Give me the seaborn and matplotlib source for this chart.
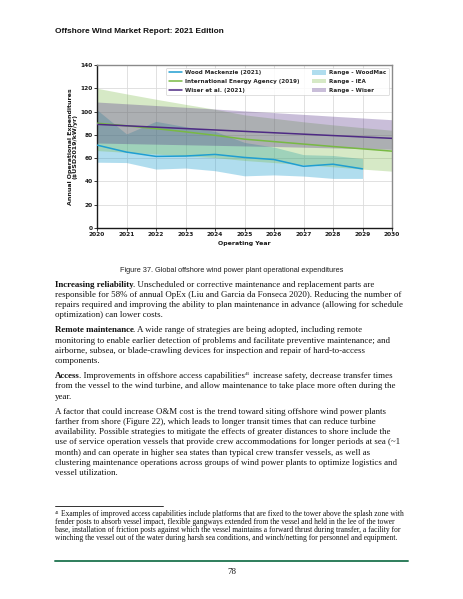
import matplotlib
matplotlib.use("Agg")
import matplotlib.pyplot as plt
import seaborn as sns
import pandas as pd
from matplotlib.lines import Line2D
from matplotlib.patches import Patch

# ---------------- data ----------------
years_wm = [2020, 2021, 2022, 2023, 2024, 2025, 2026, 2027, 2028, 2029]
wm_mid = [71.2, 65.2, 61.5, 61.8, 63.2, 60.6, 58.8, 53.0, 54.8, 50.8]
wm_low = [56.5, 56.2, 50.6, 51.5, 49.2, 44.8, 45.6, 44.6, 42.6, 42.6]
wm_high = [101.5, 80.8, 91.6, 87.0, 83.0, 73.5, 69.5, 63.0, 62.3, 59.6]

years = [2020, 2021, 2022, 2023, 2024, 2025, 2026, 2027, 2028, 2029, 2030]
iea_mid = [90.0, 87.8, 85.3, 82.6, 79.6, 76.3, 74.2, 72.1, 70.0, 68.0, 66.0]
iea_low = [66.5, 65.0, 63.5, 62.0, 60.5, 58.0, 56.2, 54.4, 52.6, 50.6, 48.8]
iea_high = [120.0, 115.2, 110.6, 106.2, 102.0, 97.2, 94.2, 91.2, 88.6, 86.2, 84.0]
wiser_mid = [89.0, 87.8, 86.6, 85.4, 84.2, 83.0, 81.8, 80.6, 79.4, 78.2, 77.0]
wiser_low = [73.0, 72.5, 72.0, 71.5, 71.0, 70.5, 70.0, 69.4, 68.8, 68.2, 67.6]
wiser_high = [108.2, 106.7, 105.2, 103.7, 102.2, 100.6, 99.1, 97.6, 96.0, 94.5, 93.0]

series_labels = ["Wood Mackenzie (2021)", "International Energy Agency (2019)", "Wiser et al. (2021)"]
range_labels = ["Range - WoodMac", "Range - IEA", "Range - Wiser"]
x_ticks = [2020, 2021, 2022, 2023, 2024, 2025, 2026, 2027, 2028, 2029, 2030]
y_ticks = [0, 20, 40, 60, 80, 100, 120, 140]

header = "Offshore Wind Market Report: 2021 Edition"
caption = "Figure 37. Global offshore wind power plant operational expenditures"

paragraphs = [
    [[("Increasing reliability", "b"), (". Unscheduled or corrective maintenance and replacement parts are", "r")],
     [("responsible for 58% of annual OpEx (Liu and Garcia da Fonseca 2020). Reducing the number of", "r")],
     [("repairs required and improving the ability to plan maintenance in advance (allowing for schedule", "r")],
     [("optimization) can lower costs.", "r")]],
    [[("Remote maintenance", "b"), (". A wide range of strategies are being adopted, including remote", "r")],
     [("monitoring to enable earlier detection of problems and facilitate preventive maintenance; and", "r")],
     [("airborne, subsea, or blade-crawling devices for inspection and repair of hard-to-access", "r")],
     [("components.", "r")]],
    [[("Access", "b"), (". Improvements in offshore access capabilities", "r"), ("41", "sup"),
      ("increase safety, decrease transfer times", "rs")],
     [("from the vessel to the wind turbine, and allow maintenance to take place more often during the", "r")],
     [("year.", "r")]],
    [[("A factor that could increase O&M cost is the trend toward siting offshore wind power plants", "r")],
     [("farther from shore (Figure 22), which leads to longer transit times that can reduce turbine", "r")],
     [("availability. Possible strategies to mitigate the effects of greater distances to shore include the", "r")],
     [("use of service operation vessels that provide crew accommodations for longer periods at sea (~1", "r")],
     [("month) and can operate in higher sea states than typical crew transfer vessels, as well as", "r")],
     [("clustering maintenance operations across groups of wind power plants to optimize logistics and", "r")],
     [("vessel utilization.", "r")]],
]
footnote = [
    [("41", "sup"), ("Examples of improved access capabilities include platforms that are fixed to the tower above the splash zone with", "rs")],
    [("fender posts to absorb vessel impact, flexible gangways extended from the vessel and held in the lee of the tower", "r")],
    [("base, installation of friction posts against which the vessel maintains a forward thrust during transfer, a facility for", "r")],
    [("winching the vessel out of the water during harsh sea conditions, and winch/netting for personnel and equipment.", "r")],
]
page_number = "78"

# ---------------- style ----------------
sns.set_theme(style="whitegrid")
plt.rcParams["font.family"] = ["DejaVu Sans"]

W, H = 463, 599
fig = plt.figure(figsize=(W / 100, H / 100), dpi=100)
fig.patch.set_facecolor("white")

def fx(x):
    return x / W

def fy(y):
    return 1 - y / H

ax = fig.add_axes([fx(97), fy(228), (392 - 97) / W, (228 - 65) / H])
ax.set_facecolor("white")

c_wm, c_iea, c_wi = "#1f9ed1", "#78b943", "#4e2a84"
a_wm, a_iea, a_wi = 0.35, 0.30, 0.30

ax.fill_between(years_wm, wm_low, wm_high, color=c_wm, alpha=a_wm, lw=0, zorder=1)
ax.fill_between(years, iea_low, iea_high, color=c_iea, alpha=a_iea, lw=0, zorder=1)
ax.fill_between(years, wiser_low, wiser_high, color=c_wi, alpha=a_wi, lw=0, zorder=1)

df_wm = pd.DataFrame({"year": years_wm, "value": wm_mid})
df_iea = pd.DataFrame({"year": years, "value": iea_mid})
df_wi = pd.DataFrame({"year": years, "value": wiser_mid})
sns.lineplot(data=df_wm, x="year", y="value", ax=ax, color=c_wm, lw=1.1, zorder=3)
sns.lineplot(data=df_iea, x="year", y="value", ax=ax, color=c_iea, lw=1.1, zorder=3)
sns.lineplot(data=df_wi, x="year", y="value", ax=ax, color=c_wi, lw=1.1, zorder=3)

ax.set_xlim(2020, 2030)
ax.set_ylim(0, 140)
ax.set_xticks(x_ticks)
ax.set_xticklabels([str(t) for t in x_ticks])
ax.set_yticks(y_ticks)
ax.set_yticklabels([str(t) for t in y_ticks])
ax.grid(True, color="#dcdcdc", lw=0.6)
ax.set_axisbelow(True)
for s in ["left", "bottom"]:
    ax.spines[s].set_color("#1a1a1a")
    ax.spines[s].set_linewidth(1.0)
for s in ["top", "right"]:
    ax.spines[s].set_color("#8a8a8a")
    ax.spines[s].set_linewidth(1.0)
ax.tick_params(axis="both", which="major", length=2, width=0.6, color="#1a1a1a",
               labelsize=4.2, pad=1.2, labelcolor="#1a1a1a", bottom=True, left=True)
for lab in ax.get_xticklabels() + ax.get_yticklabels():
    lab.set_fontweight("bold")
ax.set_xlabel("Operating Year", fontsize=4.5, fontweight="bold", labelpad=2.2, color="#1a1a1a")
ax.set_ylabel("Annual Operational Expenditures\n($USD2019/kW/yr)", fontsize=4.5,
              fontweight="bold", labelpad=2.0, color="#1a1a1a", linespacing=1.0)

handles = [Line2D([], [], color=c_wm, lw=1.1), Line2D([], [], color=c_iea, lw=1.1),
           Line2D([], [], color=c_wi, lw=1.1),
           Patch(facecolor=c_wm, alpha=a_wm, lw=0), Patch(facecolor=c_iea, alpha=a_iea, lw=0),
           Patch(facecolor=c_wi, alpha=a_wi, lw=0)]
leg = ax.legend(handles, series_labels + range_labels, ncol=2, loc="upper right",
                bbox_to_anchor=(0.99, 0.983), prop={"weight": "bold", "size": 4.1},
                frameon=True, framealpha=0.85, edgecolor="#cccccc", facecolor="white",
                handlelength=2.3, handleheight=0.8, labelspacing=0.62, columnspacing=2.2,
                borderpad=0.45, handletextpad=0.65, borderaxespad=0.0, fancybox=True)
leg.get_frame().set_linewidth(0.5)
leg.set_zorder(5)

# ---------------- page text ----------------
fig.canvas.draw()
r = fig.canvas.get_renderer()

def fit_width(t, target):
    bb = t.get_window_extent(renderer=r)
    t.set_fontsize(t.get_fontsize() * target / bb.width)

t_head = fig.text(fx(55), fy(31.7), header, ha="left", va="center", fontsize=5.2,
                  fontweight="bold", family="Liberation Sans", color="#111111")
fit_width(t_head, 168)
t_cap = fig.text(fx(231.5), fy(270), caption, ha="center", va="center", fontsize=4.7,
                 family="Liberation Sans", color="#222222")
fit_width(t_cap, 223)

SERIF = "Liberation Serif"

def space_w(size):
    a = fig.text(0, 0, "n n", fontsize=size, family=SERIF)
    b = fig.text(0, 0, "nn", fontsize=size, family=SERIF)
    w = a.get_window_extent(renderer=r).width - b.get_window_extent(renderer=r).width
    a.remove(); b.remove()
    return w

def draw_line(x, base, segs, size):
    sw = space_w(size)
    px = size / 0.72
    for txt, st in segs:
        kw = dict(fontsize=size, family=SERIF, color="#111111", ha="left", va="baseline")
        yy = base
        if st == "b":
            kw["fontweight"] = "bold"
        if st == "sup":
            kw["fontsize"] = size * 0.6
            yy = base - px * 0.38
        if st == "rs":
            x += sw
        t = fig.text(fx(x), fy(yy), txt, **kw)
        x = t.get_window_extent(renderer=r).x1
        if st == "b":
            x -= 0.6

BODY = 6.43
LS = 10.25
PG = 4.7
y = 284.3
for para in paragraphs:
    for line in para:
        draw_line(55, y + 2.4, line, BODY)
        y += LS
    y += PG

FOOT = 5.45
ax_rule = fig.add_axes([0, 0, 1, 1], facecolor="none")
ax_rule.set_axis_off()
ax_rule.set_xlim(0, W)
ax_rule.set_ylim(H, 0)
ax_rule.plot([55, 163], [505.5, 505.5], color="#111111", lw=0.6)
ax_rule.plot([55, 408], [560.5, 560.5], color="#2e7d5b", lw=1.4)
fy0 = 514.5
for line in footnote:
    draw_line(55, fy0 + 2.0, line, FOOT)
    fy0 += 7.7
fig.text(fx(231.5), fy(572), page_number, ha="center", va="center", fontsize=BODY,
         family=SERIF, color="#111111")

fig.savefig("out.png", dpi=100, facecolor="white")
